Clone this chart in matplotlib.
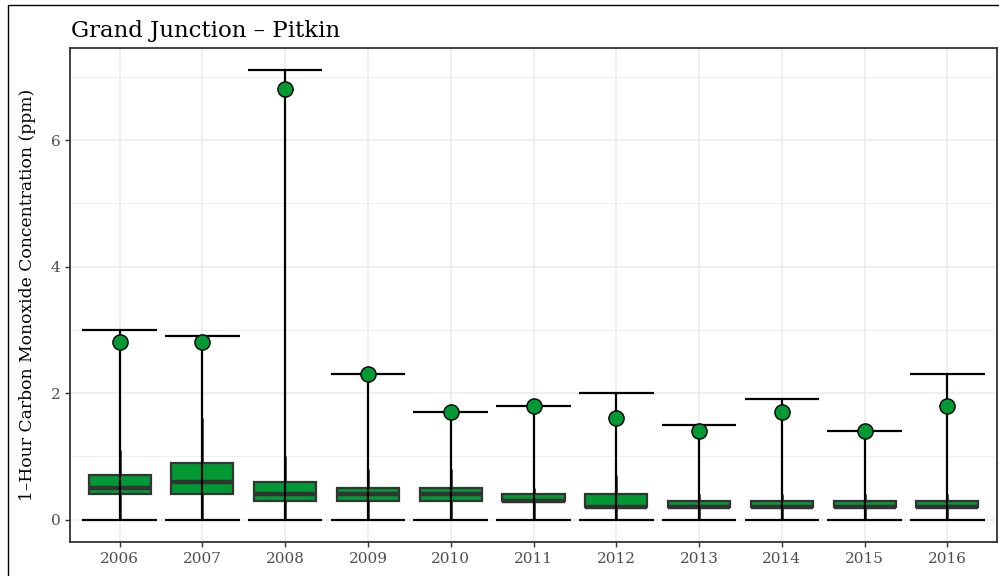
import numpy as np
import matplotlib
matplotlib.use("Agg")
import matplotlib.pyplot as plt
from matplotlib.patches import Rectangle

years = ['2006', '2007', '2008', '2009', '2010', '2011', '2012', '2013', '2014', '2015', '2016']
maxes = [3.0, 2.9, 7.1, 2.3, 1.7, 1.8, 2.0, 1.5, 1.9, 1.4, 2.3]
dots = [2.8, 2.8, 6.8, 2.3, 1.7, 1.8, 1.6, 1.4, 1.7, 1.4, 1.8]
q1 = [0.4, 0.4, 0.3, 0.3, 0.3, 0.3, 0.2, 0.2, 0.2, 0.2, 0.2]
med = [0.5, 0.6, 0.4, 0.4, 0.4, 0.3, 0.2, 0.2, 0.2, 0.2, 0.2]
q3 = [0.7, 0.9, 0.6, 0.5, 0.5, 0.4, 0.4, 0.3, 0.3, 0.3, 0.3]
upper_whisk = [1.1, 1.6, 1.0, 0.8, 0.8, 0.5, 0.7, 0.4, 0.4, 0.4, 0.4]
mins = [0.0] * 11

green = '#009933'
plt.rcParams['font.family'] = ['DejaVu Serif']

fig = plt.figure(figsize=(9.99, 5.76), dpi=100)
ax = fig.add_axes([70 / 999, 34 / 576, 927 / 999, 494 / 576])

x = np.arange(1, len(years) + 1)

# gray whiskers of the box plot (mostly hidden under the black range line)
ax.vlines(x, mins, upper_whisk, color='#333333', lw=1.9, zorder=2)

# boxes
bw = 0.75
for xi, a, m, b in zip(x, q1, med, q3):
    ax.add_patch(Rectangle((xi - bw / 2, a), bw, b - a, facecolor=green,
                           edgecolor='#333333', lw=1.6, zorder=3))
    ax.plot([xi - bw / 2, xi + bw / 2], [m, m], color='#333333', lw=3.2,
            solid_capstyle='butt', zorder=4)

# min / max range bars
ax.vlines(x, mins, maxes, color='black', lw=1.6, zorder=5)
ax.hlines(maxes, x - 0.45, x + 0.45, color='black', lw=1.6, zorder=5)
ax.hlines(mins, x - 0.45, x + 0.45, color='black', lw=1.6, zorder=5)

ax.scatter(x, dots, s=120, color=green, edgecolor='black', lw=1.0, zorder=6)

ax.set_xlim(0.4, 11.6)
ax.set_ylim(-0.355, 7.455)
ax.set_xticks(x)
ax.set_xticklabels(years)
ax.set_yticks([0, 2, 4, 6])
ax.set_yticks([1, 3, 5, 7], minor=True)
ax.grid(True, which='major', color='#EBEBEB', lw=1.1, zorder=0)
ax.grid(True, which='minor', axis='y', color='#EBEBEB', lw=0.6, zorder=0)
ax.set_axisbelow(True)
ax.tick_params(axis='both', which='major', colors='#333333', labelcolor='#4D4D4D',
               labelsize=11, length=3.5, width=1)
ax.tick_params(axis='y', which='minor', length=0)
for s in ax.spines.values():
    s.set_color('#333333')
    s.set_linewidth(1.3)

ax.set_ylabel('1\u2013Hour Carbon Monoxide Concentration (ppm)', fontsize=12.3)
ax.yaxis.set_label_coords(-0.037, 0.5)
fig.text(71 / 999, 1 - 37 / 576, 'Grand Junction \u2013 Pitkin', fontsize=16.5,
         ha='left', va='baseline')

fig.patches.append(Rectangle((8 / 999, -0.1), 1.2, 1 - 5 / 576 + 0.1,
                             transform=fig.transFigure, fill=False,
                             edgecolor='black', lw=1.0))

fig.savefig('out.png', dpi=100)
